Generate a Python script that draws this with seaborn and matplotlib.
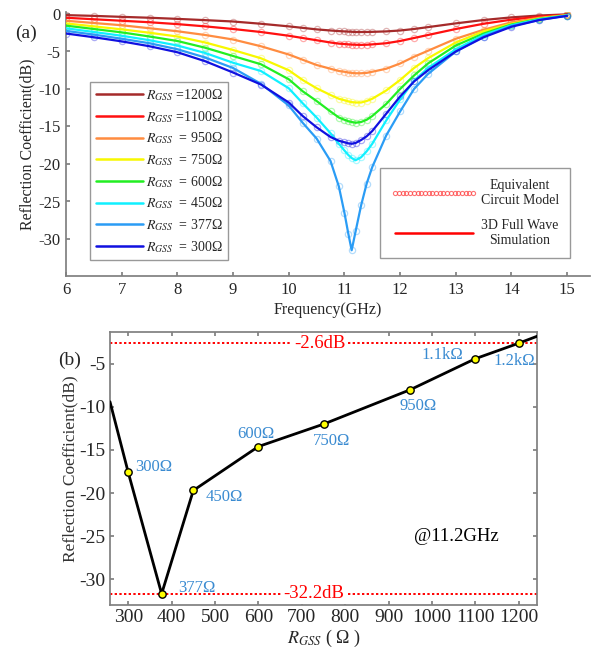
import numpy as np
import pandas as pd
import matplotlib
matplotlib.use("Agg")
import matplotlib.pyplot as plt
import seaborn as sns
from matplotlib.lines import Line2D

sns.set_theme(style="ticks")
plt.rcParams['font.family'] = ['Liberation Serif', 'Noto Sans CJK SC', 'DejaVu Sans']
plt.rcParams['mathtext.fontset'] = 'stix'
plt.rcParams['xtick.direction'] = 'in'
plt.rcParams['ytick.direction'] = 'in'

# --- (a) reflection coefficient vs frequency ---
freq_ghz = [6.0, 6.5, 7.0, 7.5, 8.0, 8.5, 9.0, 9.5, 10.0, 10.25, 10.5, 10.75, 10.9,
            11.0, 11.07, 11.13, 11.2, 11.3, 11.4, 11.5, 11.75, 12.0, 12.25, 12.5,
            13.0, 13.5, 14.0, 14.5, 15.0]

s11_1200 = [-0.15, -0.25, -0.38, -0.5, -0.65, -0.82, -1.0, -1.3, -1.65, -1.85, -2.05, -2.2, -2.28,
            -2.32, -2.35, -2.37, -2.4, -2.4, -2.4, -2.38, -2.32, -2.2, -2.0, -1.75,
            -1.25, -0.8, -0.45, -0.2, -0.05]
s11_1100 = [-0.5, -0.7, -0.9, -1.1, -1.35, -1.65, -2.0, -2.4, -2.9, -3.2, -3.5, -3.8, -3.95,
            -4.0, -4.05, -4.08, -4.1, -4.12, -4.1, -4.05, -3.9, -3.6, -3.2, -2.8,
            -2.0, -1.3, -0.75, -0.35, -0.1]
s11_950 = [-0.9, -1.2, -1.5, -1.9, -2.3, -2.8, -3.4, -4.3, -5.4, -6.1, -6.8, -7.3, -7.6,
           -7.7, -7.8, -7.85, -7.9, -7.9, -7.85, -7.7, -7.3, -6.6, -5.7, -4.9,
           -3.3, -2.1, -1.1, -0.5, -0.15]
s11_750 = [-1.25, -1.65, -2.05, -2.5, -3.0, -3.8, -4.8, -5.9, -7.5, -8.8, -9.9, -10.8, -11.3,
           -11.5, -11.65, -11.75, -11.8, -11.8, -11.6, -11.3, -10.2, -8.8, -7.2, -5.9,
           -3.8, -2.3, -1.3, -0.6, -0.15]
s11_600 = [-1.55, -2.0, -2.45, -3.0, -3.6, -4.5, -5.6, -6.7, -8.7, -10.3, -11.6, -13.0, -13.8,
           -14.1, -14.3, -14.4, -14.5, -14.4, -14.1, -13.6, -12.0, -10.0, -8.2, -6.6,
           -4.2, -2.6, -1.4, -0.65, -0.2]
s11_450 = [-1.9, -2.4, -2.9, -3.5, -4.2, -5.2, -6.5, -7.6, -9.9, -11.9, -13.8, -15.9, -17.3,
           -18.2, -18.8, -19.2, -19.5, -19.1, -18.3, -17.3, -14.2, -11.4, -8.9, -7.2,
           -4.7, -2.8, -1.5, -0.7, -0.2]
s11_377 = [-2.25, -2.75, -3.3, -3.9, -4.7, -5.8, -7.2, -9.3, -12.2, -14.5, -16.6, -19.6, -23.0,
           -26.5, -29.3, -31.5, -29.0, -25.5, -22.6, -20.4, -16.2, -13.0, -10.0, -8.0,
           -5.0, -3.0, -1.6, -0.8, -0.2]
s11_300 = [-2.6, -3.1, -3.65, -4.3, -5.1, -6.3, -7.8, -9.4, -11.8, -13.6, -15.1, -16.4, -16.9,
           -17.1, -17.25, -17.3, -17.2, -16.8, -16.3, -15.6, -13.3, -11.0, -9.0, -7.5,
           -5.0, -3.1, -1.7, -0.8, -0.25]

curve_labels = [r"$R_{GSS}$ =1200Ω", r"$R_{GSS}$ =1100Ω", r"$R_{GSS}$  = 950Ω", r"$R_{GSS}$  = 750Ω",
                r"$R_{GSS}$  = 600Ω", r"$R_{GSS}$  = 450Ω", r"$R_{GSS}$  = 377Ω", r"$R_{GSS}$  = 300Ω"]
curve_colors = ['#a52a2a', '#ff1010', '#ff8c40', '#f8f800', '#22ee22', '#10f0ff', '#2a9cf5', '#1010e0']
curve_values = [s11_1200, s11_1100, s11_950, s11_750, s11_600, s11_450, s11_377, s11_300]

# --- (b) reflection at 11.2 GHz vs R_GSS ---
r_gss = [300, 377, 450, 600, 750, 950, 1100, 1200]
s11_at_11g = [-17.6, -31.7, -19.7, -14.6, -12.0, -8.0, -4.4, -2.6]
r_labels = ["300Ω", "377Ω", "450Ω", "600Ω", "750Ω", "950Ω", "1.1kΩ", "1.2kΩ"]
trend_r = [258] + r_gss + [1242]
trend_s11 = [-9.4] + s11_at_11g + [-1.8]
ref_levels = [-2.6, -31.7]
ref_texts = ["-2.6dB", "-32.2dB"]

W, H = 592, 652
fig = plt.figure(figsize=(W / 100, H / 100), dpi=100)
spine_c = '#808080'

# ----- panel (a) -----
ax1 = fig.add_axes([66 / W, 1 - 276.5 / H, 524 / W, 264.75 / H])
for vals, c in zip(curve_values, curve_colors):
    sns.lineplot(x=freq_ghz, y=vals, ax=ax1, color=c, linestyle='none', marker='o',
                 mfc='none', mec=c, ms=4.5, mew=0.9, alpha=0.35, zorder=2)
for vals, c in zip(curve_values, curve_colors):
    sns.lineplot(x=freq_ghz, y=vals, ax=ax1, color=c, lw=1.6, zorder=3)

ax1.set_xlim(6, 15.41)
ax1.set_ylim(-35, 0.3)
ax1.set_xticks(range(6, 16))
ax1.set_yticks([0, -5, -10, -15, -20, -25, -30])
ax1.set_yticklabels(['0', '-5', '-10', '-15', '-20', '-25', '-30'])
for s in ['top', 'right']:
    ax1.spines[s].set_visible(False)
for s in ['left', 'bottom']:
    ax1.spines[s].set_color(spine_c)
ax1.tick_params(labelsize=12, length=3, color=spine_c, pad=4)
ax1.set_xlabel("Frequency(GHz)", fontsize=11.5, labelpad=3)
ax1.set_ylabel("Reflection Coefficient(dB)", fontsize=11.5, labelpad=2)

h1 = [Line2D([0], [0], color=c, lw=1.8) for c in curve_colors]
leg1 = ax1.legend(h1, curve_labels, loc='lower left', bbox_to_anchor=(0.046, 0.062),
                  borderaxespad=0, fontsize=10, frameon=True, fancybox=False,
                  edgecolor=spine_c, handlelength=3.4, labelspacing=0.42, handletextpad=0.2,
                  borderpad=0.4)
leg1.get_frame().set_linewidth(1.0)
ax1.add_artist(leg1)

h2 = [Line2D([0], [0], ls='none', marker='o', mfc='none', mec='#ff5050', ms=3, mew=0.8, alpha=0.8),
      Line2D([0], [0], color='red', lw=1.8)]
leg2 = ax1.legend(h2, ["Equivalent\nCircuit Model", "3D Full Wave\nSimulation"],
                  loc='lower right', bbox_to_anchor=(0.962, 0.07), borderaxespad=0,
                  fontsize=10, numpoints=22, frameon=True, fancybox=False, edgecolor=spine_c,
                  handlelength=6.2, labelspacing=0.85, handletextpad=0.25, borderpad=0.8)
leg2.get_frame().set_linewidth(1.0)
for t in leg2.get_texts():
    t.set_multialignment('center')

fig.text(15 / W, 1 - 33 / H, "(a)", fontsize=14, va='center', ha='left')

# ----- panel (b) -----
ax2 = fig.add_axes([110 / W, 1 - 605 / H, 427 / W, 273 / H])
for lvl in ref_levels:
    ax2.axhline(lvl, color='red', ls=(0, (1.2, 1.2)), lw=1.4, zorder=1)
sns.lineplot(x=trend_r, y=trend_s11, ax=ax2, color='black', lw=2, zorder=3)
sns.scatterplot(x=r_gss, y=s11_at_11g, ax=ax2, color='#ffff00', edgecolor='black',
                linewidth=1, s=28, zorder=4)

blue_t = '#3a8bd1'
offsets = [(5, 4), (12, 4), (9, -5), (-2, 9), (6, -12), (6, -12), (-9, 3), (-3, -13)]
aligns = ['left', 'left', 'left', 'center', 'center', 'center', 'right', 'center']
for r, v, lab, off, ha in zip(r_gss, s11_at_11g, r_labels, offsets, aligns):
    ax2.annotate(lab, (r, v), xytext=off, textcoords='offset points', color=blue_t,
                 fontsize=12, ha=ha, va='center')

ax2.text(741, ref_levels[0], ref_texts[0], color='red', fontsize=13.5, ha='center', va='center',
         bbox=dict(facecolor='white', edgecolor='none', pad=1.2), zorder=2)
ax2.text(727, ref_levels[1], ref_texts[1], color='red', fontsize=13.5, ha='center', va='center',
         bbox=dict(facecolor='white', edgecolor='none', pad=1.2), zorder=2)
ax2.text(958, -25, "@11.2GHz", fontsize=13.5, ha='left', va='center', color='black')

ax2.set_xlim(258, 1242)
ax2.set_ylim(-33, -1.3)
ax2.set_xticks(range(300, 1201, 100))
ax2.set_yticks([-5, -10, -15, -20, -25, -30])
ax2.set_yticklabels(['-5', '-10', '-15', '-20', '-25', '-30'])
for s in ax2.spines.values():
    s.set_color(spine_c)
ax2.tick_params(labelsize=14, length=3, color=spine_c, top=True, right=True, pad=3)
ax2.set_xlabel(r"$R_{GSS}$ ( Ω )", fontsize=13, labelpad=1)
ax2.set_ylabel("Reflection Coefficient(dB)", fontsize=12.5, color='#333333', labelpad=1)

fig.text(58 / W, 1 - 360 / H, "(b)", fontsize=14, va='center', ha='left')

fig.savefig("out.png", dpi=100)
